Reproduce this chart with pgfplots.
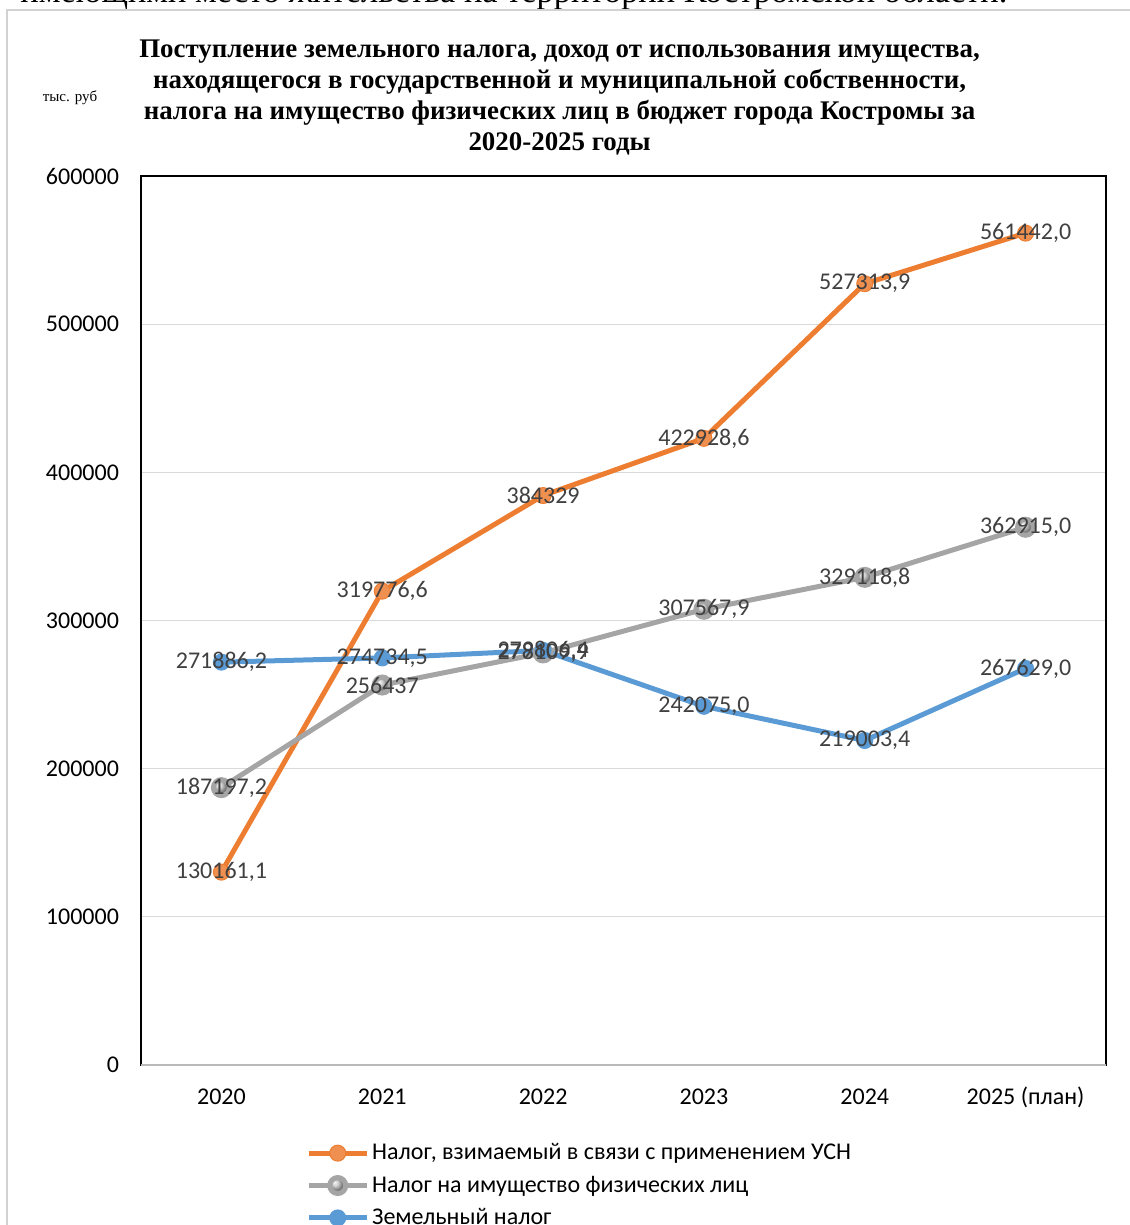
\documentclass[border=0pt]{standalone}
\usepackage{fontspec}
\setmainfont{Carlito}
\newfontfamily\tnr{Liberation Serif}
\usepackage{pgfplots}
\usepackage{pgfplotstable}
\pgfplotsset{compat=1.18}
\definecolor{usn}{HTML}{ED7D31}
\definecolor{imu}{HTML}{A5A5A5}
\definecolor{zem}{HTML}{5B9BD5}
\definecolor{lab}{HTML}{404040}
\definecolor{grd}{HTML}{D9D9D9}

\pgfplotstableread{
x y lab
0 130161.1 130161,1
1 319776.6 319776,6
2 384329 384329
3 422928.6 422928,6
4 527313.9 527313,9
5 561442.0 561442,0
}\usndata
\pgfplotstableread{
x y lab
0 187197.2 187197,2
1 256437 256437
2 278109.9 278109,9
3 307567.9 307567,9
4 329118.8 329118,8
5 362915.0 362915,0
}\imudata
\pgfplotstableread{
x y lab
0 271886.2 271886,2
1 274734.5 274734,5
2 279806.4 279806,4
3 242075.0 242075,0
4 219003.4 219003,4
5 267629.0 267629,0
}\zemdata

\newcommand{\ticksize}{\fontsize{12}{13.5}\selectfont}

\begin{document}
\begin{tikzpicture}
\useasboundingbox (0,0) rectangle (564.5pt,612.5pt);
% clipped sentence from the page above the chart
\node[anchor=base west, inner sep=0, font=\tnr\fontsize{17.2}{20}\selectfont] at (10pt,611pt)
  {имеющими место жительства на территории Костромской области.};
\draw[gray!35, line width=0.75pt] (3.5pt,0pt) -- (3.5pt,607.5pt) -- (570pt,607.5pt);

\node[align=center, font=\tnr\bfseries\fontsize{13.45}{15.5}\selectfont] at (279.8pt,563.5pt)
  {Поступление земельного налога, доход от использования имущества,\\
   находящегося в государственной и муниципальной собственности,\\
   налога на имущество физических лиц в бюджет города Костромы за\\
   2020-2025 годы};
\node[font=\tnr\fontsize{7.5}{9}\selectfont] at (35pt,563.5pt) {тыс. руб};

\begin{axis}[
  scale only axis,
  width=482.5pt, height=444.5pt,
  at={(70.5pt,80pt)}, anchor=south west,
  xmin=-0.5, xmax=5.5,
  ymin=0, ymax=600000,
  xtick={0,...,5},
  xticklabels={2020,2021,2022,2023,2024,2025 (план)},
  ytick={0,100000,...,600000},
  scaled y ticks=false,
  /pgf/number format/.cd, fixed, 1000 sep={}, assume math mode=true, /pgfplots/.cd,
  major tick length=0pt,
  tick label style={font=\ticksize},
  yticklabel style={anchor=east, xshift=-7.5pt},
  xticklabel style={anchor=center, yshift=-16pt},
  ymajorgrids, grid style={grd, line width=0.6pt},
  axis line style={black, line width=1pt},
  clip=false,
  legend style={at={(axis description cs:0.1646,-0.08)}, anchor=north west,
    draw=none, fill=none, font=\ticksize, row sep=3.6pt,
    nodes={inner sep=1.5pt}, cells={anchor=west}},
  legend image code/.code={\draw[mark repeat=2, mark phase=2, #1]
    plot coordinates {(0pt,0pt) (14.5pt,0pt) (29pt,0pt)};},
  every node near coord/.style={anchor=center, font=\ticksize, text=lab},
]
\addplot[usn, line width=2.5pt, mark=*, mark size=4pt, mark options={fill=usn!85!white, draw=usn, line width=0.5pt}]
  table[x=x, y=y] {\usndata};
\addlegendentry{Налог, взимаемый в связи с применением УСН}
\addplot[imu, line width=2.5pt, mark=ball, mark size=4pt, mark options={ball color=imu!70!white}]
  table[x=x, y=y] {\imudata};
\addlegendentry{Налог на имущество физических лиц}
\addplot[zem, line width=2.5pt, mark=*, mark size=4pt, mark options={fill=zem, draw=zem, line width=0.5pt}]
  table[x=x, y=y] {\zemdata};
\addlegendentry{Земельный налог}
% data labels on top of the lines
\addplot[draw=none, mark=none, forget plot, point meta=explicit symbolic, nodes near coords]
  table[x=x, y=y, meta=lab] {\usndata};
\addplot[draw=none, mark=none, forget plot, point meta=explicit symbolic, nodes near coords]
  table[x=x, y=y, meta=lab] {\imudata};
\addplot[draw=none, mark=none, forget plot, point meta=explicit symbolic, nodes near coords]
  table[x=x, y=y, meta=lab] {\zemdata};
\draw[gray!55, line width=1pt] (rel axis cs:0,0) -- (rel axis cs:1,0);
\end{axis}
\end{tikzpicture}
\end{document}
